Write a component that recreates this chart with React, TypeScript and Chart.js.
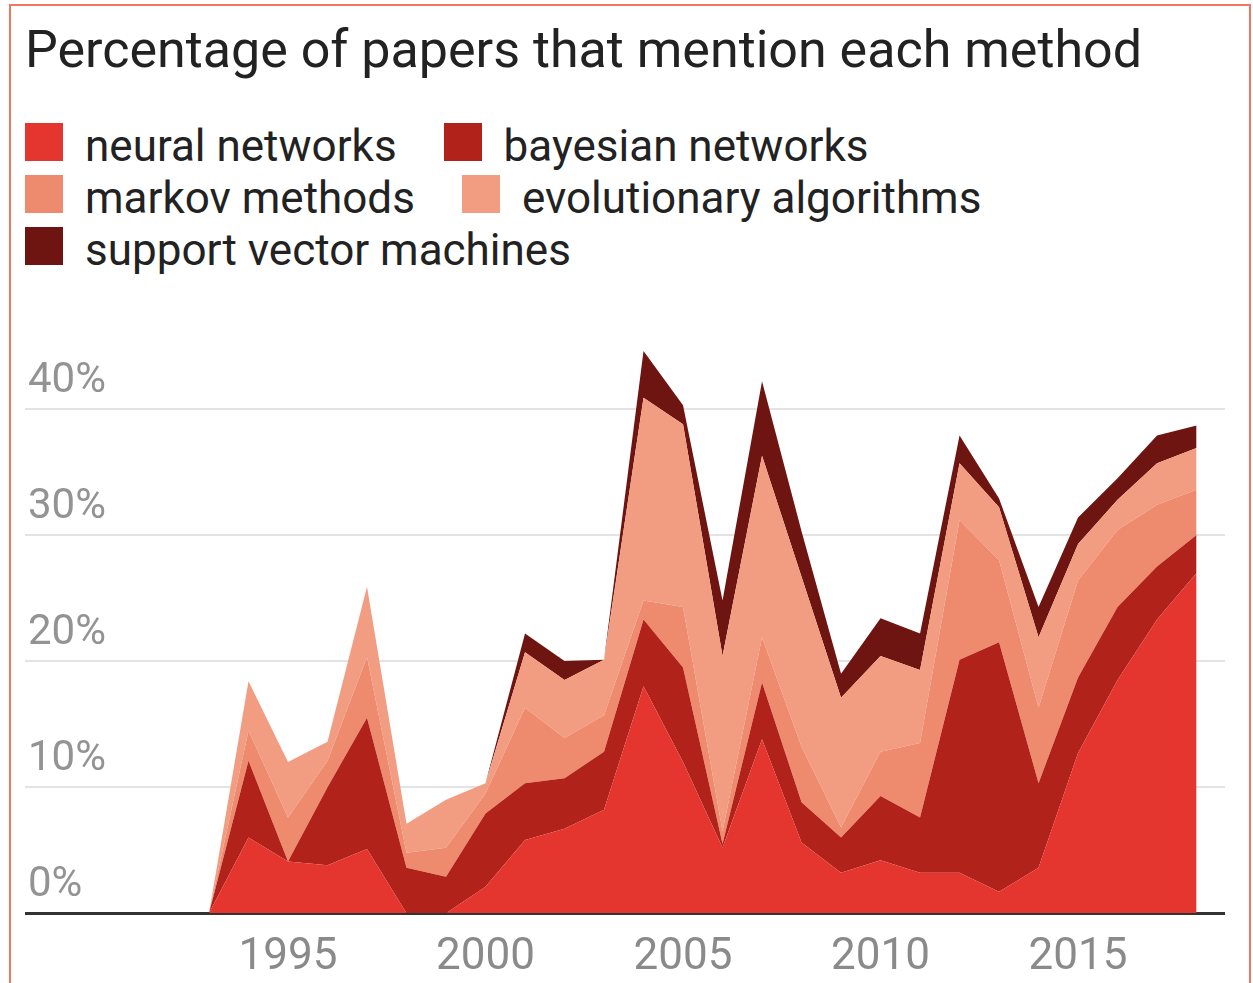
import React, { useEffect, useRef } from 'react';
import { Chart, registerables } from 'chart.js';

Chart.register(...registerables);

const titleText = 'Percentage of papers that mention each method';

const years = [
  1993, 1994, 1995, 1996, 1997, 1998, 1999, 2000, 2001, 2002, 2003, 2004, 2005,
  2006, 2007, 2008, 2009, 2010, 2011, 2012, 2013, 2014, 2015, 2016, 2017, 2018,
];

const neuralNetworks = [
  0, 6.0, 4.1, 3.8, 5.1, 0, 0, 2.1, 5.8, 6.7, 8.2, 18.0, 12.0,
  5.2, 13.8, 5.6, 3.2, 4.2, 3.2, 3.2, 1.7, 3.6, 12.7, 18.5, 23.3, 27.0,
];
const bayesianNetworks = [
  0, 6.1, 0, 6.2, 10.4, 3.6, 2.9, 5.8, 4.5, 4.0, 4.6, 5.3, 7.5,
  0.3, 4.5, 3.2, 2.8, 5.1, 4.4, 16.9, 19.8, 6.7, 6.0, 5.8, 4.2, 3.0,
];
const markovMethods = [
  0, 2.4, 3.5, 2.1, 4.8, 1.2, 2.3, 1.6, 6.0, 3.2, 2.9, 1.5, 4.8,
  1.0, 3.6, 4.4, 0.8, 3.5, 5.9, 11.1, 6.5, 6.0, 7.7, 6.1, 4.9, 3.6,
];
const evolutionaryAlgorithms = [
  0, 3.9, 4.4, 1.5, 5.6, 2.3, 3.8, 0.8, 4.4, 4.6, 4.4, 16.1, 14.5,
  13.9, 14.4, 13.5, 10.3, 7.6, 5.8, 4.5, 4.2, 5.6, 2.9, 2.4, 3.3, 3.3,
];
const supportVectorMachines = [
  0, 0, 0, 0, 0, 0, 0, 0, 1.5, 1.5, 0, 3.7, 1.5,
  4.4, 5.9, 3.6, 1.9, 3.0, 2.9, 2.2, 0.7, 2.4, 2.1, 1.7, 2.2, 1.8,
];

const seriesLabels = [
  'neural networks',
  'bayesian networks',
  'markov methods',
  'evolutionary algorithms',
  'support vector machines',
];
const seriesColors = ['#e4352f', '#b1221a', '#ee8b6f', '#f29d82', '#6e1511'];
const seriesValues = [
  neuralNetworks,
  bayesianNetworks,
  markovMethods,
  evolutionaryAlgorithms,
  supportVectorMachines,
];

const xTickYears = [1995, 2000, 2005, 2010, 2015];
const yTickValues = [0, 10, 20, 30, 40];

const FONT = 'Roboto, "Noto Sans", Arial, sans-serif';

function AreaChart() {
  const ref = useRef<HTMLCanvasElement | null>(null);
  useEffect(() => {
    if (!ref.current) return;
    const chart = new Chart(ref.current, {
      type: 'line',
      data: {
        datasets: seriesValues.map((vals, i) => ({
          label: seriesLabels[i],
          data: years.map((yr, j) => ({ x: yr, y: vals[j] })),
          backgroundColor: seriesColors[i],
          borderColor: seriesColors[i],
          borderWidth: 0,
          pointRadius: 0,
          pointHoverRadius: 0,
          tension: 0,
          fill: i === 0 ? 'origin' : '-1',
        })),
      },
      options: {
        animation: false,
        responsive: false,
        events: [],
        layout: { padding: { top: 30, right: 0, bottom: 0, left: 0 } },
        plugins: {
          legend: { display: false },
          title: { display: false },
          tooltip: { enabled: false },
        },
        scales: {
          x: {
            type: 'linear',
            min: 1988.342,
            max: 2018.72,
            grid: { display: false, drawTicks: false },
            border: { display: false },
            afterBuildTicks: (axis: any) => {
              axis.ticks = xTickYears.map((v) => ({ value: v }));
            },
            ticks: {
              padding: 18,
              color: '#8a8a8a',
              font: { family: FONT, size: 44 },
              maxRotation: 0,
              autoSkip: false,
              callback: (v: any) => String(v),
            },
          },
          y: {
            type: 'linear',
            stacked: true,
            min: 0,
            max: 45,
            border: { display: false },
            grid: {
              drawTicks: false,
              color: (ctx: any) => (ctx.tick && ctx.tick.value === 0 ? '#333333' : '#e3e3e3'),
              lineWidth: (ctx: any) => (ctx.tick && ctx.tick.value === 0 ? 3 : 2),
            },
            afterBuildTicks: (axis: any) => {
              axis.ticks = yTickValues.map((v) => ({ value: v }));
            },
            ticks: {
              mirror: true,
              padding: 3,
              labelOffset: -28,
              color: '#939393',
              font: { family: FONT, size: 42 },
              callback: (v: any) => v + '%',
            },
          },
        },
      } as any,
    });
    return () => chart.destroy();
  }, []);
  return (
    <canvas
      ref={ref}
      width={1206}
      height={686}
      style={{ position: 'absolute', left: 19, top: 316, width: 1206, height: 686 }}
    />
  );
}

export default function App() {
  return (
    <div
      style={{
        position: 'fixed',
        left: 0,
        top: 0,
        right: 0,
        bottom: 0,
        overflow: 'hidden',
        background: '#ffffff',
        fontFamily: FONT,
      }}
    >
      <div
        style={{
          position: 'absolute',
          left: 9,
          top: 4,
          width: 1242,
          height: 1100,
          border: '2px solid #f4765f',
          boxSizing: 'border-box',
        }}
      />
      <div
        style={{
          position: 'absolute',
          left: 25,
          top: 24,
          fontSize: 52,
          lineHeight: 1,
          color: '#222222',
          whiteSpace: 'nowrap',
        }}
      >
        {titleText}
      </div>
      <div
        style={{
          position: 'absolute',
          left: 25,
          top: 120,
          width: 1200,
          display: 'flex',
          flexWrap: 'wrap',
        }}
      >
        {seriesLabels.map((lab, i) => (
          <div
            key={lab}
            style={{
              display: 'flex',
              alignItems: 'baseline',
              height: 52,
              lineHeight: '52px',
              marginRight: 47,
              fontSize: 44,
              color: '#222222',
              whiteSpace: 'nowrap',
            }}
          >
            <span
              style={{
                display: 'block',
                width: 38,
                height: 38,
                marginRight: 22,
                background: seriesColors[i],
              }}
            />
            <span>{lab}</span>
          </div>
        ))}
      </div>
      <AreaChart />
    </div>
  );
}
